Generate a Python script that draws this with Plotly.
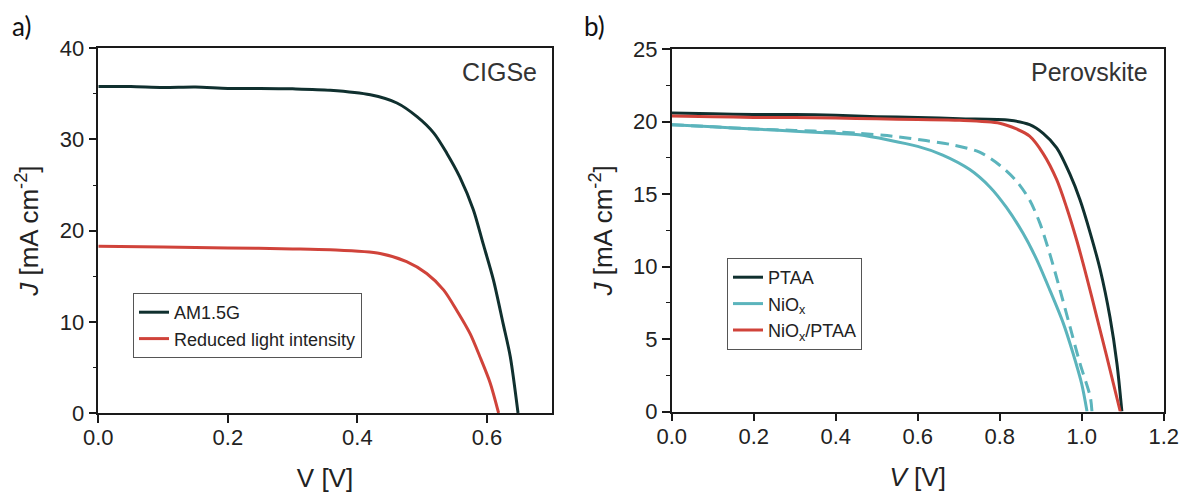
import plotly.graph_objects as go

# ---- Panel a: CIGSe ----
am15_v = [0, 0.05, 0.1, 0.15, 0.2, 0.25, 0.3, 0.358, 0.420, 0.461, 0.492, 0.518, 0.538, 0.558, 0.579, 0.594, 0.610, 0.625, 0.636, 0.648]
am15_j = [35.8, 35.8, 35.7, 35.75, 35.6, 35.6, 35.55, 35.4, 34.9, 34.0, 32.5, 30.7, 28.5, 25.9, 22.3, 18.6, 14.6, 9.8, 6.2, 0]

red_v = [0, 0.1, 0.2, 0.3, 0.358, 0.435, 0.476, 0.507, 0.533, 0.553, 0.574, 0.589, 0.605, 0.618]
red_j = [18.3, 18.2, 18.1, 18.0, 17.9, 17.5, 16.6, 15.3, 13.5, 11.3, 8.7, 6.2, 3.3, 0]

# ---- Panel b: Perovskite ----
ptaa_v = [0, 0.1, 0.2, 0.3, 0.4, 0.5, 0.6, 0.702, 0.824, 0.873, 0.906, 0.939, 0.971, 0.996, 1.021, 1.045, 1.069, 1.086, 1.098]
ptaa_j = [20.6, 20.55, 20.5, 20.5, 20.45, 20.35, 20.3, 20.2, 20.1, 19.8, 19.2, 18.2, 16.4, 14.6, 12.3, 9.8, 6.5, 3.3, 0]

niox_v = [0, 0.1, 0.2, 0.3, 0.4, 0.457, 0.6, 0.661, 0.727, 0.776, 0.816, 0.857, 0.890, 0.922, 0.955, 0.979, 1.0, 1.013]
niox_j = [19.8, 19.65, 19.5, 19.35, 19.2, 19.1, 18.3, 17.7, 16.7, 15.5, 14.1, 12.3, 10.5, 8.4, 6.1, 4.0, 1.9, 0]

niox_rev_v = [0, 0.1, 0.2, 0.3, 0.4, 0.457, 0.539, 0.620, 0.686, 0.751, 0.8, 0.841, 0.873, 0.898, 0.922, 0.947, 0.971, 0.996, 1.021, 1.025]
niox_rev_j = [19.8, 19.65, 19.5, 19.4, 19.3, 19.2, 19.0, 18.7, 18.4, 17.9, 17.0, 15.9, 14.6, 13.0, 10.9, 8.4, 5.9, 3.3, 1.0, 0]

nioxptaa_v = [0, 0.1, 0.2, 0.3, 0.4, 0.5, 0.6, 0.702, 0.8, 0.841, 0.873, 0.906, 0.939, 0.963, 0.988, 1.012, 1.037, 1.061, 1.094]
nioxptaa_j = [20.4, 20.35, 20.3, 20.3, 20.25, 20.2, 20.15, 20.1, 19.9, 19.5, 19.0, 17.8, 16.0, 14.1, 11.8, 9.3, 6.5, 3.8, 0]

DARK = "#10302f"
RED = "#d0433a"
TEAL = "#5bb4bc"
FONT = "Liberation Sans, Arial, sans-serif"

fig = go.Figure()

def line(x, y, name, color, xa, ya, legend, dash="solid", show=True):
    fig.add_trace(go.Scatter(
        x=x, y=y, name=name, mode="lines", xaxis=xa, yaxis=ya,
        line=dict(color=color, width=3, dash=dash, shape="spline", smoothing=0.8),
        legend=legend, showlegend=show))

line(am15_v, am15_j, "AM1.5G", DARK, "x", "y", "legend")
line(red_v, red_j, "Reduced light intensity", RED, "x", "y", "legend")

line(niox_rev_v, niox_rev_j, "NiO<sub>x</sub> (reverse)", TEAL, "x2", "y2", "legend2", dash="12px,7px", show=False)
line(ptaa_v, ptaa_j, "PTAA", DARK, "x2", "y2", "legend2")
line(niox_v, niox_j, "NiO<sub>x</sub>", TEAL, "x2", "y2", "legend2")
line(nioxptaa_v, nioxptaa_j, "NiO<sub>x</sub>/PTAA", RED, "x2", "y2", "legend2")

# page body adds an 8px offset; figure sized to the visible area
OFF = 8
W, H = 1190 - OFF, 495 - OFF

def px(x):
    return (x - OFF) / W

def py(y):
    return 1 - (y - OFF) / H

axis_common = dict(
    showline=True, linecolor="#1a1a1a", linewidth=1.5, mirror=True,
    ticks="outside", ticklen=8, tickwidth=1.5, tickcolor="#1a1a1a",
    showgrid=False, zeroline=False, automargin=False,
    tickfont=dict(family=FONT, size=22, color="#222"),
    title_font=dict(family=FONT, size=26, color="#222"),
)
yminor = dict(ticks="outside", ticklen=4, tickwidth=1.2, tickcolor="#1a1a1a", showgrid=False)

fig.update_layout(
    width=W, height=H,
    margin=dict(l=0, r=0, t=0, b=0),
    paper_bgcolor="white", plot_bgcolor="white",
    font=dict(family=FONT, color="#222"),
    xaxis=dict(domain=[px(98.3), px(551.7)], range=[0, 0.7], dtick=0.2, tickformat=".1f",
               anchor="y", ticklabelstandoff=-4,
               title=dict(text="V [V]", standoff=20), **axis_common),
    yaxis=dict(domain=[py(413), py(48.3)], range=[0, 40], dtick=10,
               anchor="x", title=dict(text="<i>J</i> [mA cm<sup>-2</sup>]", standoff=14),
               minor=dict(dtick=5, **yminor), **axis_common),
    xaxis2=dict(domain=[px(671.7), px(1163.7)], range=[0, 1.2], dtick=0.2, tickformat=".1f",
                anchor="y2", ticklabelstandoff=-4,
                title=dict(text="<i>V</i> [V]", standoff=20), **axis_common),
    yaxis2=dict(domain=[py(411.5), py(49.3)], range=[0, 25], dtick=5,
                anchor="x2", title=dict(text="<i>J</i> [mA cm<sup>-2</sup>]", standoff=13),
                minor=dict(dtick=2.5, **yminor), **axis_common),
    legend=dict(x=px(133), y=py(293), xanchor="left", yanchor="top",
                bordercolor="#555", borderwidth=1, bgcolor="white",
                font=dict(family=FONT, size=18, color="#222"), tracegroupgap=0),
    legend2=dict(x=px(727), y=py(258), xanchor="left", yanchor="top",
                 bordercolor="#555", borderwidth=1, bgcolor="white",
                 font=dict(family=FONT, size=18, color="#222"), tracegroupgap=0),
    showlegend=True,
)

fig.add_annotation(x=px(539), y=py(72), xref="paper", yref="paper", text="CIGSe",
                   showarrow=False, xanchor="right", yanchor="middle",
                   font=dict(family=FONT, size=25, color="#333"))
fig.add_annotation(x=px(1150), y=py(72), xref="paper", yref="paper", text="Perovskite",
                   showarrow=False, xanchor="right", yanchor="middle",
                   font=dict(family=FONT, size=25, color="#333"))
fig.add_annotation(x=px(10), y=py(8.5), xref="paper", yref="paper", text="a)",
                   showarrow=False, xanchor="left", yanchor="top",
                   font=dict(family="Lato, Open Sans, sans-serif", size=26, color="#111"))
fig.add_annotation(x=px(582), y=py(8.5), xref="paper", yref="paper", text="b)",
                   showarrow=False, xanchor="left", yanchor="top",
                   font=dict(family="Lato, Open Sans, sans-serif", size=26, color="#111"))

fig.write_html("out.html")
